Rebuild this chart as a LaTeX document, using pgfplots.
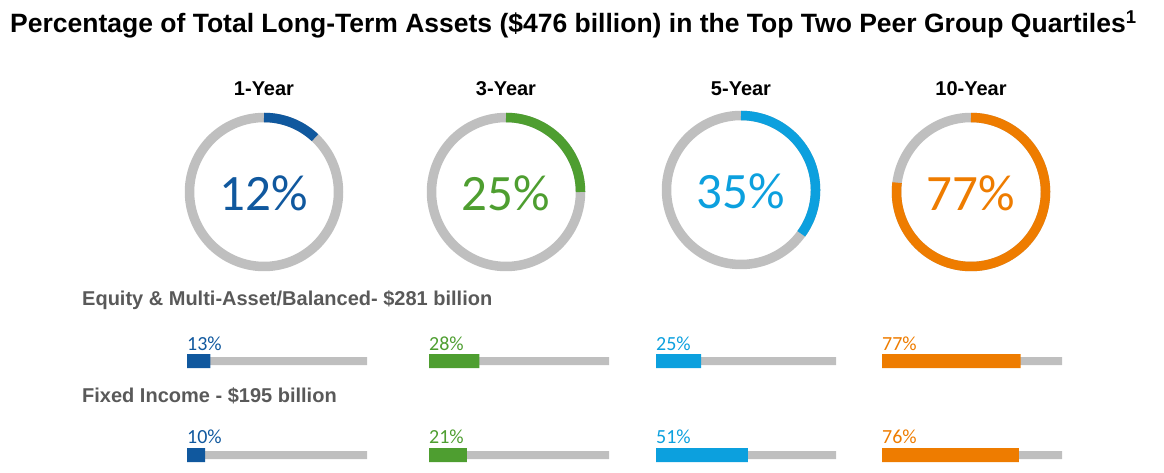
\documentclass[border=0pt]{standalone}
\usepackage{fontspec}
\setmainfont{Liberation Sans}
\newfontfamily\carlito{Carlito}
\usepackage{pgfplots}
\pgfplotsset{compat=1.18}

\definecolor{blueC}{RGB}{16,88,158}
\definecolor{greenC}{RGB}{78,158,48}
\definecolor{cyanC}{RGB}{12,160,222}
\definecolor{orangeC}{RGB}{238,124,0}
\definecolor{grayC}{RGB}{191,191,191}
\definecolor{headC}{RGB}{89,89,89}

% donut: centre x, centre y, percent, colour
\newcommand{\donut}[4]{%
  \begin{axis}[at={(#1pt,#2pt)}, anchor=center, scale only axis,
      width=149pt, height=149pt, xmin=-1, xmax=1, ymin=-1, ymax=1,
      hide axis, clip=false]
    \addplot[grayC, line width=9.5pt, domain=0:100, samples=181] ({sin(3.6*x)},{cos(3.6*x)});
    \addplot[#4, line width=9.5pt, domain=0:#3, samples=91] ({sin(3.6*x)},{cos(3.6*x)});
    \node[#4, font=\carlito\fontsize{51}{51}\selectfont] at (axis cs:0,-0.02) {#3\%};
  \end{axis}}

% progress bars: left x, equity value, fixed income value, colour
\newcommand{\bars}[4]{%
  \begin{axis}[at={(#1pt,17pt)}, anchor=south west, scale only axis,
      width=180pt, height=94pt, xmin=0, xmax=100, ymin=0, ymax=1,
      enlargelimits=false, hide axis, clip=false]
    \addplot[xbar, bar width=8pt, bar shift=0pt, fill=grayC, draw=none]
      coordinates {(100,1) (100,0)};
    \addplot[xbar, bar width=14pt, bar shift=0pt, fill=#4, draw=none]
      coordinates {(#2,1) (#3,0)};
    \node[#4, anchor=base west, inner sep=0pt, font=\carlito\fontsize{20}{20}\selectfont]
      at (axis cs:0,1) [yshift=11pt] {#2\%};
    \node[#4, anchor=base west, inner sep=0pt, font=\carlito\fontsize{20}{20}\selectfont]
      at (axis cs:0,0) [yshift=11.5pt] {#3\%};
  \end{axis}}

\begin{document}
\begin{tikzpicture}
  \path[use as bounding box] (0,0) rectangle (1164pt,472pt);

  \node[anchor=base west, inner sep=0pt, font=\bfseries\fontsize{26.5}{26.5}\selectfont]
    at (10pt,439pt) {Percentage of Total Long-Term Assets (\$476 billion) in the Top Two Peer Group Quartiles\textsuperscript{1}};

  \foreach \cx/\lab in {264/1-Year, 506/3-Year, 741/5-Year, 971/10-Year}
    \node[anchor=base, inner sep=0pt, font=\bfseries\fontsize{20}{20}\selectfont]
      at (\cx pt,376pt) {\lab};

  \donut{264}{280}{12}{blueC}
  \donut{506}{280}{25}{greenC}
  \donut{741}{282}{35}{cyanC}
  \donut{971}{280}{77}{orangeC}

  \node[anchor=base west, inner sep=0pt, text=headC, font=\bfseries\fontsize{20}{20}\selectfont]
    at (82pt,167pt) {Equity \& Multi-Asset/Balanced- \$281 billion};
  \node[anchor=base west, inner sep=0pt, text=headC, font=\bfseries\fontsize{20}{20}\selectfont]
    at (82pt,70pt) {Fixed Income - \$195 billion};

  \bars{187}{13}{10}{blueC}
  \bars{429}{28}{21}{greenC}
  \bars{656}{25}{51}{cyanC}
  \bars{882}{77}{76}{orangeC}
\end{tikzpicture}
\end{document}
